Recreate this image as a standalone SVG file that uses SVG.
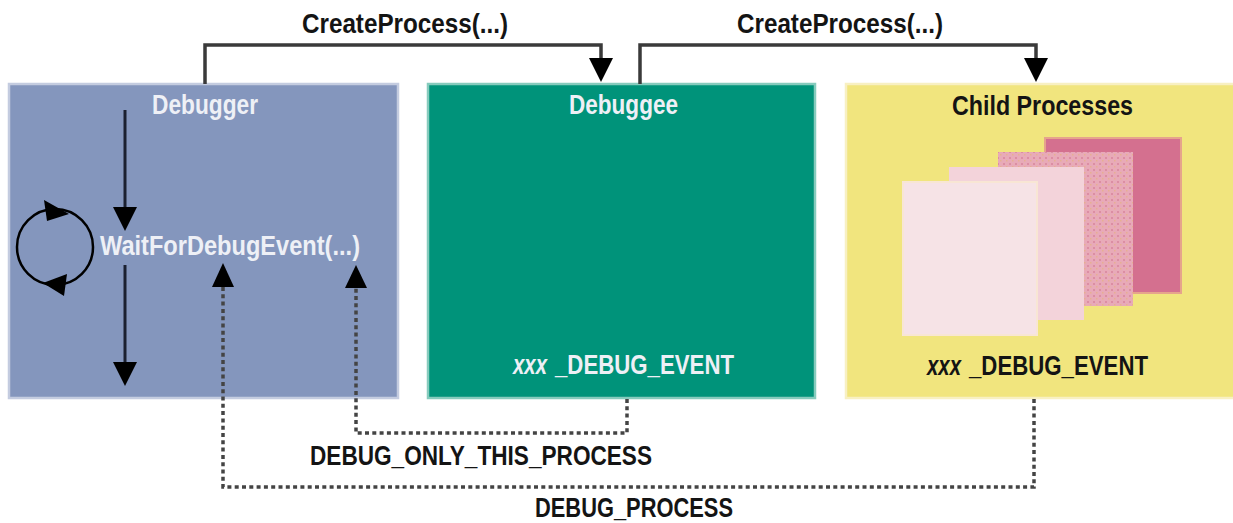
<svg xmlns="http://www.w3.org/2000/svg" width="1233" height="523" viewBox="0 0 1233 523">
  <style>
    .lbl { font-family: "Liberation Sans Narrow", "Liberation Sans", Arial, sans-serif; font-weight: bold; font-size: 27px; }
    .it { font-style: italic; }
    .dark { fill: #141414; }
    .light { fill: #eef0f6; }
    .solid { fill: none; stroke: #3a3a3a; stroke-width: 3.5; }
    .flow { fill: none; stroke: #1b2030; stroke-width: 3; }
    .dash { fill: none; stroke: #444; stroke-width: 3.5; stroke-dasharray: 4 3.3; }
    .head { fill: #000; }
  </style>
  <defs>
    <pattern id="dots" width="6" height="6" patternUnits="userSpaceOnUse">
      <rect width="6" height="6" fill="#e8aab8"/>
      <rect x="1" y="1" width="2" height="2" fill="#dc8ea4"/>
      <rect x="4" y="4" width="1.5" height="1.5" fill="#e6b090"/>
    </pattern>
  </defs>

  <rect width="1233" height="523" fill="#ffffff"/>

  <!-- Debugger -->
  <g id="debugger">
    <rect x="9" y="84" width="389" height="314" fill="#8496bd" stroke="#c4cce0" stroke-width="2.5"/>
    <text class="lbl light" x="152" y="114" textLength="106" lengthAdjust="spacingAndGlyphs">Debugger</text>
    <!-- loop into the wait call and out of it -->
    <line class="flow" x1="125" y1="110" x2="125" y2="210"/>
    <polygon class="head" points="113,207 137,207 125,231"/>
    <line class="flow" x1="125" y1="265" x2="125" y2="365"/>
    <polygon class="head" points="113,362 137,362 125,386"/>
    <circle cx="55" cy="247" r="38" fill="none" stroke="#000" stroke-width="2.5"/>
    <polygon class="head" points="44,200 69,214 47,221"/>
    <polygon class="head" points="67,274 64,296 43,283"/>
    <text class="lbl light" x="100" y="255" textLength="260" lengthAdjust="spacingAndGlyphs">WaitForDebugEvent(...)</text>
  </g>

  <!-- Debuggee -->
  <g id="debuggee">
    <rect x="428" y="84" width="387" height="314" fill="#00937a" stroke="#86cbbd" stroke-width="2.5"/>
    <text class="lbl light" x="569" y="114" textLength="109" lengthAdjust="spacingAndGlyphs">Debuggee</text>
    <text class="lbl light it" x="513" y="374" textLength="34" lengthAdjust="spacingAndGlyphs">xxx</text>
    <text class="lbl light" x="555" y="374" textLength="179" lengthAdjust="spacingAndGlyphs">_DEBUG_EVENT</text>
  </g>

  <!-- Child processes -->
  <g id="child-processes">
    <rect x="846" y="84" width="390" height="314" fill="#f1e57e" stroke="#f8f0c2" stroke-width="2.5"/>
    <text class="lbl dark" x="952" y="115" textLength="181" lengthAdjust="spacingAndGlyphs">Child Processes</text>
    <rect x="1045" y="138" width="136" height="155" fill="#d4708f" stroke="#e6a48c" stroke-width="2"/>
    <rect x="998" y="152" width="135" height="154" fill="url(#dots)"/>
    <rect x="949" y="167" width="135" height="153" fill="#f3d3da"/>
    <rect x="903" y="182" width="134" height="153" fill="#f6e3e6" stroke="#f8e6d4" stroke-width="2"/>
    <text class="lbl dark it" x="927" y="375" textLength="34" lengthAdjust="spacingAndGlyphs">xxx</text>
    <text class="lbl dark" x="969" y="375" textLength="179" lengthAdjust="spacingAndGlyphs">_DEBUG_EVENT</text>
  </g>

  <!-- Connectors -->
  <g id="connectors">
    <polyline class="solid" points="205,84 205,45 601,45 601,62"/>
    <polygon class="head" points="589,58 613,58 601,82"/>
    <polyline class="solid" points="640,84 640,45 1036,45 1036,62"/>
    <polygon class="head" points="1024,58 1048,58 1036,82"/>

    <polyline class="dash" points="627,399 627,433 356,433 356,288"/>
    <polygon class="head" points="345,288 367,288 356,265"/>
    <polyline class="dash" points="1034,399 1034,487 223,487 223,287"/>
    <polygon class="head" points="212,287 234,287 223,263"/>
  </g>

  <!-- Connector labels -->
  <g id="labels">
    <text class="lbl dark" x="302" y="33" textLength="206" lengthAdjust="spacingAndGlyphs">CreateProcess(...)</text>
    <text class="lbl dark" x="737" y="33" textLength="206" lengthAdjust="spacingAndGlyphs">CreateProcess(...)</text>
    <text class="lbl dark" x="310" y="465" textLength="342" lengthAdjust="spacingAndGlyphs">DEBUG_ONLY_THIS_PROCESS</text>
    <text class="lbl dark" x="535" y="517" textLength="198" lengthAdjust="spacingAndGlyphs">DEBUG_PROCESS</text>
  </g>
</svg>
